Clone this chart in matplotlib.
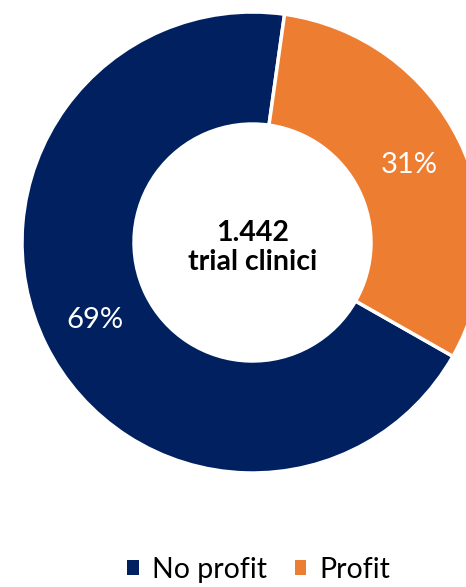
import matplotlib.pyplot as plt
from matplotlib.patches import Patch

plt.rcParams['font.family'] = ['Lato', 'DejaVu Sans']

categories = ["No profit", "Profit"]
shares = [69, 31]
colors = ["#002060", "#ED7D31"]
total_label = "1.442\ntrial clinici"

fig = plt.figure(figsize=(4.66, 5.87), dpi=100)
# donut centre ~ (252, 242) px, outer radius ~230 px
ax = fig.add_axes([22 / 466, 114 / 587, 461 / 466, 461 / 587])

wedges, texts, autotexts = ax.pie(
    shares,
    colors=colors,
    startangle=82,
    counterclock=True,
    radius=1.0,
    autopct="%1.0f%%",
    pctdistance=0.76,
    wedgeprops=dict(width=0.486, edgecolor="white", linewidth=2.5),
    textprops=dict(color="white", fontsize=21),
)

ax.text(0, -0.022, total_label, ha="center", va="center", fontsize=20.5,
        fontweight="bold", color="black", linespacing=1.15)

ax.set_xlim(-1, 1)
ax.set_ylim(-1, 1)
ax.set_aspect("equal")
ax.axis("off")

handles = [Patch(facecolor=c, edgecolor="none") for c in colors]
fig.legend(handles, categories, loc="center", bbox_to_anchor=(258.5 / 466, 17 / 587),
           ncol=2, frameon=False, fontsize=20.5, handlelength=0.42, handleheight=0.42,
           handletextpad=0.46, columnspacing=0.98)

fig.savefig("out.png", dpi=100)
